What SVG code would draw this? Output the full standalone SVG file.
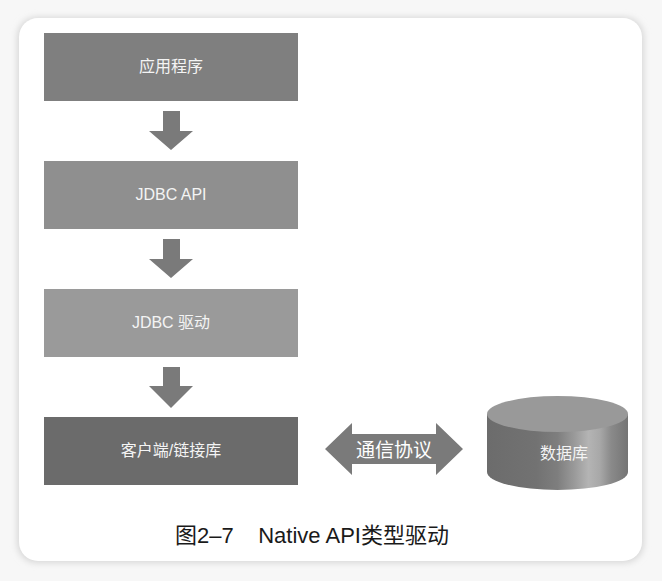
<svg xmlns="http://www.w3.org/2000/svg" width="662" height="581" viewBox="0 0 662 581">
<defs>
<style>
.lbl{font-family:"Liberation Sans","Noto Sans CJK SC",sans-serif;font-size:16px;fill:#f4f4f4;text-anchor:middle;}
.arrow{fill:#7a7a7a;}
</style>
<filter id="sh" x="-10%" y="-10%" width="120%" height="120%">
<feGaussianBlur stdDeviation="3"/>
</filter>
<linearGradient id="cyl" x1="0" y1="0" x2="1" y2="0">
<stop offset="0" stop-color="#6c6c6c"/>
<stop offset="0.35" stop-color="#727272"/>
<stop offset="0.5" stop-color="#7e7e7e"/>
<stop offset="0.62" stop-color="#9a9a9a"/>
<stop offset="0.72" stop-color="#b4b4b4"/>
<stop offset="0.8" stop-color="#a8a8a8"/>
<stop offset="0.88" stop-color="#8a8a8a"/>
<stop offset="1" stop-color="#747474"/>
</linearGradient>
</defs>
<rect width="662" height="581" fill="#f7f7f7"/>
<rect x="17" y="17" width="627" height="546" rx="20" fill="#d8d8d8" filter="url(#sh)"/>
<rect x="19" y="18" width="623" height="543" rx="19" fill="#ffffff"/>

<g id="connectors">
<path class="arrow" d="M163,111 H180 V131 H193 L171,150 L149,131 H163 Z"/>
<path class="arrow" d="M163,239 H180 V259 H193 L171,278 L149,259 H163 Z"/>
<path class="arrow" d="M163,367 H180 V386 H193 L171,408 L149,386 H163 Z"/>
<g id="protocol">
<path fill="#7a7a7a" d="M325,449 L352,423 V434 H436 V423 L463,449 L436,475 V464 H352 V475 Z"/>
<text x="394" y="457" font-family="'Noto Sans CJK SC',sans-serif" font-size="19" fill="#ffffff" text-anchor="middle">通信协议</text>
</g>
</g>

<g id="app">
<rect x="44" y="33" width="254" height="68" fill="#7f7f7f"/>
<text class="lbl" x="171" y="72">应用程序</text>
</g>
<g id="jdbcapi">
<rect x="44" y="161" width="254" height="68" fill="#8f8f8f"/>
<text class="lbl" x="171" y="200">JDBC API</text>
</g>
<g id="jdbcdriver">
<rect x="44" y="289" width="254" height="68" fill="#9a9a9a"/>
<text class="lbl" x="171" y="328">JDBC 驱动</text>
</g>
<g id="client">
<rect x="44" y="417" width="254" height="68" fill="#6b6b6b"/>
<text class="lbl" x="171" y="456">客户端/链接库</text>
</g>
<g id="database">
<path d="M487,414 V472 A70.5,18 0 0 0 628,472 V414 Z" fill="url(#cyl)"/>
<ellipse cx="557.5" cy="414" rx="70.5" ry="18" fill="#999999"/>
<text class="lbl" x="564" y="459" font-size="16">数据库</text>
</g>
<text x="312" y="543" font-family="'Liberation Sans','Noto Sans CJK SC',sans-serif" font-size="22" fill="#1a1a1a" text-anchor="middle" xml:space="preserve">图2–7    Native API类型驱动</text>
</svg>
